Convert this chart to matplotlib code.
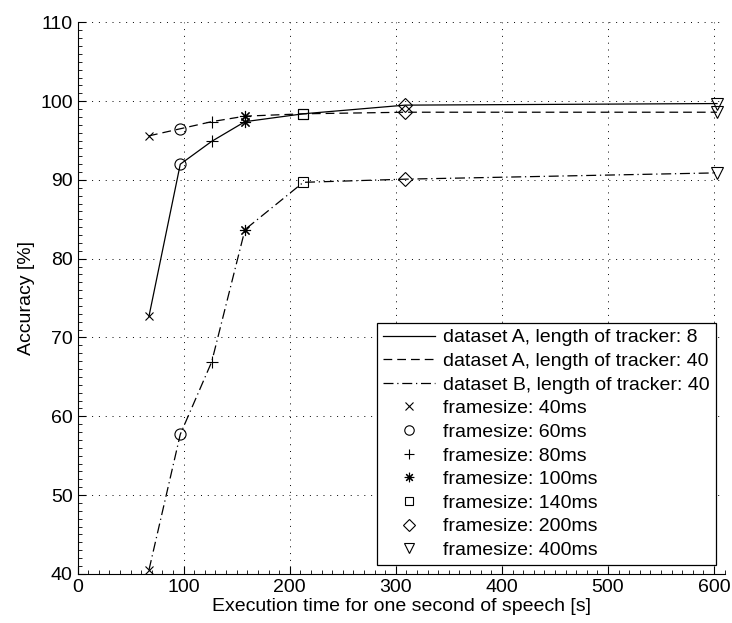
import matplotlib
matplotlib.use("Agg")
import matplotlib.pyplot as plt
from matplotlib.lines import Line2D
from matplotlib.ticker import MultipleLocator

plt.rcParams["font.family"] = ["Liberation Sans", "DejaVu Sans"]

# execution time per framesize (40, 60, 80, 100, 140, 200, 400 ms)
exec_time = [67.3, 96.8, 126.4, 157.8, 212.8, 308.8, 602.8]
framesizes = ["40ms", "60ms", "80ms", "100ms", "140ms", "200ms", "400ms"]
markers = ["x", "o", "+", (8, 2, 0), "s", "D", "v"]
marker_sizes = [6, 8, 8, 8, 7, 7, 9]

acc_a8 = [72.7, 92.0, 94.9, 97.4, 98.4, 99.5, 99.7]
acc_a40 = [95.6, 96.5, 97.4, 98.1, 98.4, 98.6, 98.6]
acc_b40 = [40.5, 57.7, 66.9, 83.7, 89.7, 90.1, 90.9]

series = [
    ("dataset A, length of tracker: 8", acc_a8, "-"),
    ("dataset A, length of tracker: 40", acc_a40, (0, (7, 4))),
    ("dataset B, length of tracker: 40", acc_b40, (0, (8, 3, 1, 3))),
]

fig = plt.figure(figsize=(7.32, 6.23), dpi=100)
ax = fig.add_axes([0.106, 0.079, 0.884, 0.885])

for label, acc, ls in series:
    ax.plot(exec_time, acc, color="black", linestyle=ls, linewidth=0.9)

# one marker shape per framesize, on every curve
for i, (m, ms) in enumerate(zip(markers, marker_sizes)):
    for label, acc, ls in series:
        ax.plot(exec_time[i], acc[i], linestyle="none", marker=m,
                markersize=ms, markerfacecolor="none",
                markeredgecolor="black", markeredgewidth=0.8)

ax.set_xlim(0, 610)
ax.set_ylim(40, 110)
ax.xaxis.set_major_locator(MultipleLocator(100))
ax.xaxis.set_minor_locator(MultipleLocator(10))
ax.yaxis.set_major_locator(MultipleLocator(10))
ax.yaxis.set_minor_locator(MultipleLocator(1))
ax.tick_params(which="major", direction="in", length=6, width=0.8, labelsize=14)
ax.tick_params(which="minor", direction="in", length=3, width=0.6)
ax.spines["top"].set_visible(False)
ax.spines["right"].set_visible(False)
ax.grid(True, which="major", color="black", linestyle=(0, (1, 6)), linewidth=0.7)

ax.set_xlabel("Execution time for one second of speech [s]", fontsize=14, labelpad=2)
ax.set_ylabel("Accuracy [%]", fontsize=14, labelpad=4)

handles = [Line2D([], [], color="black", linestyle=ls, linewidth=0.9)
           for label, acc, ls in series]
labels = [label for label, acc, ls in series]
for fs, m, ms in zip(framesizes, markers, marker_sizes):
    handles.append(Line2D([], [], color="black", linestyle="none", marker=m,
                          markersize=ms * 0.85, markerfacecolor="none",
                          markeredgewidth=0.8))
    labels.append("framesize: " + fs)

leg = ax.legend(handles, labels, loc="lower right", bbox_to_anchor=(0.986, 0.016),
                borderaxespad=0, fontsize=14, frameon=True,
                fancybox=False, edgecolor="black", framealpha=1,
                handlelength=2.7, handletextpad=0.4, labelspacing=0.31,
                borderpad=0.3)
leg.get_frame().set_linewidth(0.9)

fig.savefig("out.png", dpi=100)
